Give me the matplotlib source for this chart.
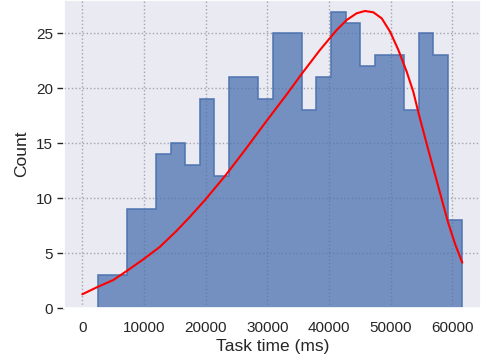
import numpy as np
import matplotlib
matplotlib.use("Agg")
import matplotlib.pyplot as plt
import seaborn as sns

# histogram of task times: 25 equal bins between these limits
bin_start = 2497
bin_end = 61620
counts = [3, 3, 9, 9, 14, 15, 13, 19, 12, 21, 21, 19, 25,
          25, 18, 21, 27, 26, 22, 23, 23, 18, 25, 23, 8]

# fitted density curve, scaled to counts
fit_x = [0, 2335, 5030, 7200, 9890, 12600, 15310, 17470, 19900, 23140,
         26380, 29630, 33140, 35840, 38540, 41250, 42870, 44490, 45840,
         47190, 48550, 49900, 51250, 52600, 53670, 54600, 56110, 57730,
         59350, 60500, 61620]
fit_y = [1.25, 1.88, 2.55, 3.37, 4.43, 5.58, 7.04, 8.32, 9.84, 12.02,
         14.39, 16.85, 19.45, 21.52, 23.5, 25.32, 26.23, 26.84, 27.05,
         26.93, 26.38, 25.17, 23.5, 21.52, 19.7, 17.58, 14.39, 11.05,
         7.71, 5.75, 4.13]

sns.set_theme(style="darkgrid", rc={
    "grid.linestyle": ":",
    "grid.color": "#a4a4ac",
    "grid.linewidth": 1.0,
})
plt.rcParams["font.family"] = ["Liberation Sans", "DejaVu Sans"]

fig = plt.figure(figsize=(4.82, 3.6), dpi=100)
ax = fig.add_axes([64 / 482, 52 / 360, 417 / 482, 308 / 360])

edges = np.linspace(bin_start, bin_end, len(counts) + 1)
ax.hist(edges[:-1], bins=edges, weights=counts, histtype="stepfilled",
        facecolor=(76 / 255, 114 / 255, 176 / 255, 0.75),
        edgecolor=(76 / 255, 114 / 255, 176 / 255, 0.9), linewidth=1.2)
ax.plot(fit_x, fit_y, color="red", linewidth=1.5)

ax.set_xlim(-2970, 64650)
ax.set_ylim(0, 28.05)
ax.set_xticks(range(0, 60001, 10000))
ax.set_yticks(range(0, 26, 5))
ax.tick_params(axis="x", labelsize=11, length=0, pad=9)
ax.tick_params(axis="y", labelsize=11, left=True, length=5, width=1,
               color="#262626", pad=3)
ax.set_xlabel("Task time (ms)", fontsize=12.5, labelpad=3)
ax.set_ylabel("Count", fontsize=12.5, labelpad=5)

fig.savefig("out.png", dpi=100)
